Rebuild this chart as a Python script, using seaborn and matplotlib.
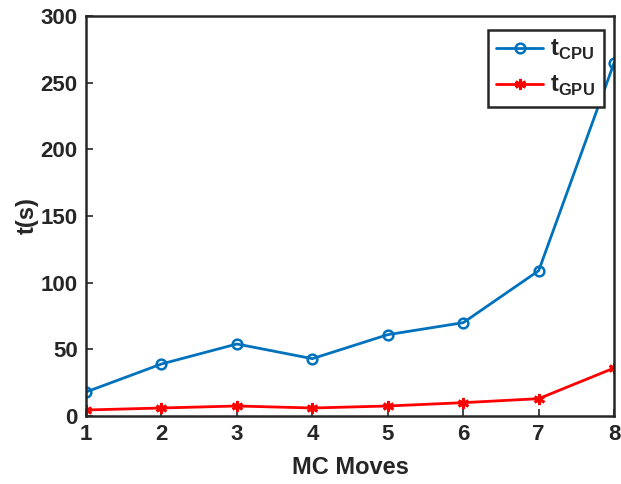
import matplotlib
matplotlib.use("Agg")
import matplotlib.pyplot as plt
import seaborn as sns
import pandas as pd

moves = [1, 2, 3, 4, 5, 6, 7, 8]
t_cpu = [18, 39, 54, 43, 61, 70, 109, 265]
t_gpu = [4.5, 6, 7.5, 6, 7.5, 10, 13, 36]

df = pd.DataFrame({"moves": moves, "cpu": t_cpu, "gpu": t_gpu})

sns.set_style("ticks")
plt.rcParams["font.family"] = ["Liberation Sans", "DejaVu Sans"]
plt.rcParams["font.weight"] = "bold"
plt.rcParams["mathtext.fontset"] = "custom"
plt.rcParams["mathtext.bf"] = "Liberation Sans:bold"
plt.rcParams["mathtext.rm"] = "Liberation Sans:bold"

fig = plt.figure(figsize=(6.21, 4.84), dpi=100)
ax = fig.add_axes([0.1385, 0.1405, 0.8505, 0.8265])

sns.lineplot(data=df, x="moves", y="cpu", ax=ax, color="#0072BD", lw=2,
             marker="o", markersize=7, markerfacecolor="none",
             markeredgecolor="#0072BD", markeredgewidth=1.8,
             label=r"t$_{\mathbf{CPU}}$")
sns.lineplot(data=df, x="moves", y="gpu", ax=ax, color="#FF0000", lw=2,
             marker=(6, 2, 0), markersize=8, markeredgecolor="#FF0000",
             markeredgewidth=2, label=r"t$_{\mathbf{GPU}}$")

ax.set_xlim(1, 8)
ax.set_ylim(0, 300)
ax.set_xticks(moves)
ax.set_yticks(range(0, 301, 50))
ax.tick_params(direction="in", length=5, width=1.2, labelsize=16, pad=6,
               colors="#262626")
for lab in ax.get_xticklabels() + ax.get_yticklabels():
    lab.set_fontweight("bold")
for s in ax.spines.values():
    s.set_visible(True)
    s.set_linewidth(1.8)
    s.set_color("#262626")

ax.set_xlabel("MC Moves", fontsize=17, fontweight="bold", color="#262626", labelpad=8)
ax.set_ylabel("t(s)", fontsize=17, fontweight="bold", color="#262626", labelpad=1)

leg = ax.legend(loc="upper right", fontsize=17, fancybox=False, framealpha=1,
                edgecolor="#262626", handlelength=2.0, handletextpad=0.3,
                borderpad=0.35, labelspacing=0.5, borderaxespad=0.0,
                bbox_to_anchor=(0.98, 0.965))
leg.get_frame().set_linewidth(1.8)
for t in leg.get_texts():
    t.set_fontweight("bold")

fig.savefig("out.png", dpi=100)
